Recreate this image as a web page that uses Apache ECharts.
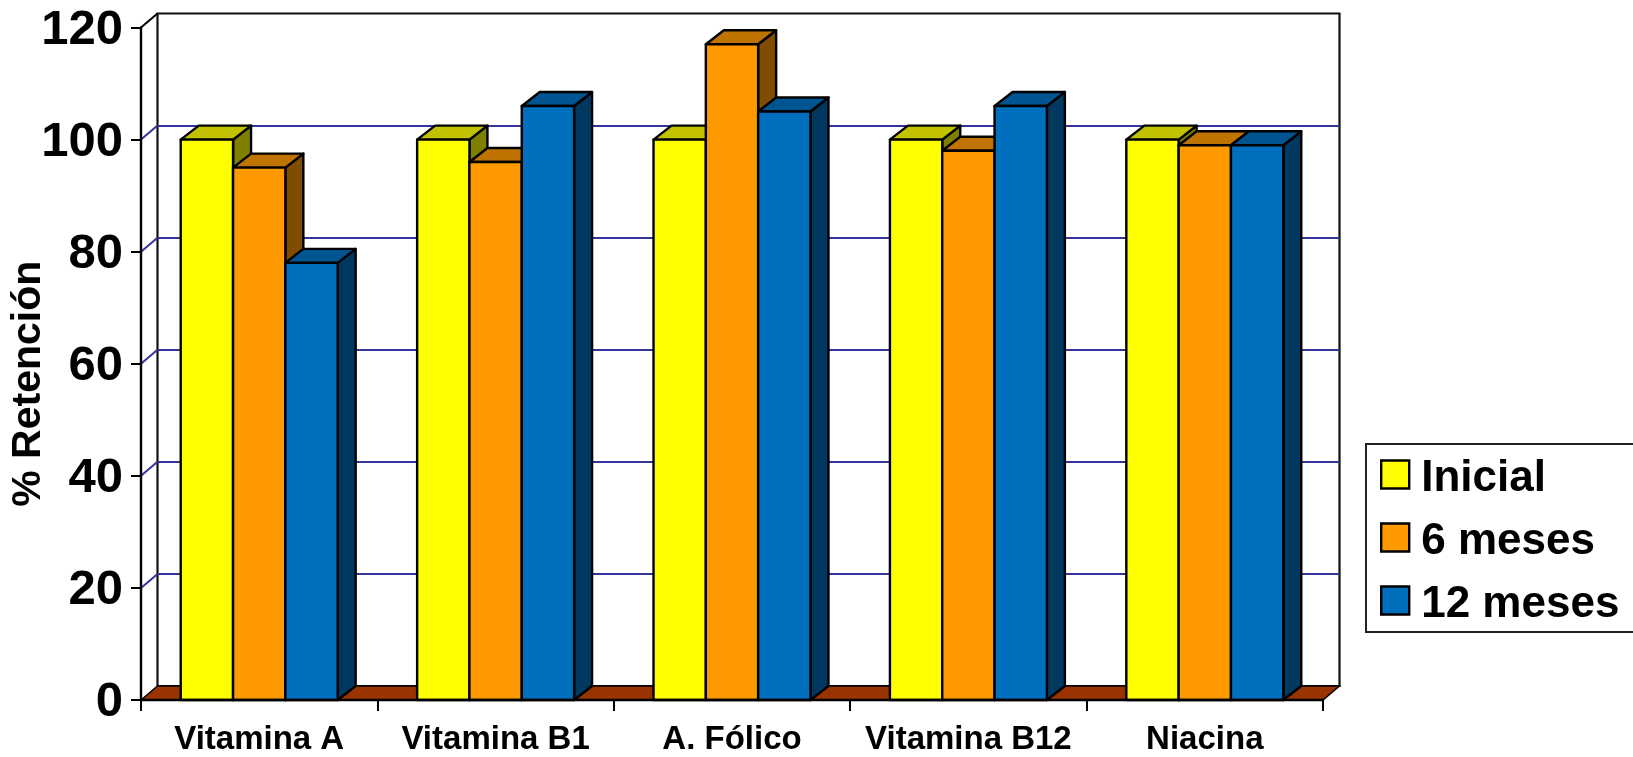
<!DOCTYPE html>
<html>
<head>
<meta charset="utf-8">
<title>% Retención</title>
<style>
html,body{margin:0;padding:0;background:#fff;}
#chart{width:1633px;height:757px;}
</style>
<script src="https://cdn.jsdelivr.net/npm/echarts@6/dist/echarts.min.js"></script>
</head>
<body>
<div id="chart"></div>
<script>
// Vitamin retention over storage time
const categories = ['Vitamina A', 'Vitamina B1', 'A. Fólico', 'Vitamina B12', 'Niacina'];
const inicial = [100, 100, 100, 100, 100];
const seisMeses = [95, 96, 117, 98, 99];
const doceMeses = [78, 106, 105, 106, 99];
const yTicks = [0, 20, 40, 60, 80, 100, 120];

// Pseudo-3D depth of the box and of each column
const DEPTH_X = 16.5;
const DEPTH_Y = -14;
const BAR_DEPTH_X = 18;
const BAR_SHARE = 0.2213;
const FONT = '"Liberation Sans", Arial, sans-serif';

const palettes = [
  { front: '#FFFF00', top: '#C2C200', side: '#808000' },
  { front: '#FF9900', top: '#BF7300', side: '#804D00' },
  { front: '#0070BE', top: '#00548F', side: '#00385F' }
];

const grid = { left: 141, top: 27.5, width: 1182, height: 672.5 };

const frame = { stroke: '#000', lineWidth: 2.4, lineJoin: 'round' };

function columnRenderer(index) {
  const p = palettes[index];
  return function (params, api) {
    const cat = api.value(0);
    const [cx, yTop] = api.coord([cat, api.value(1)]);
    const [, yBase] = api.coord([cat, 0]);
    const w = api.size([1, 0])[0] * BAR_SHARE;
    const x0 = cx + (index - 1.5) * w;
    const x1 = x0 + w;
    const dx = BAR_DEPTH_X, dy = DEPTH_Y;
    return {
      type: 'group',
      children: [
        { type: 'polygon', shape: { points: [[x1, yTop], [x1 + dx, yTop + dy], [x1 + dx, yBase + dy], [x1, yBase]] }, style: { fill: p.side, ...frame } },
        { type: 'polygon', shape: { points: [[x0, yTop], [x0 + dx, yTop + dy], [x1 + dx, yTop + dy], [x1, yTop]] }, style: { fill: p.top, ...frame } },
        { type: 'rect', shape: { x: x0, y: yTop, width: w, height: yBase - yTop }, style: { fill: p.front, ...frame } }
      ]
    };
  };
}

function columnSeries(name, values, index) {
  return {
    name,
    type: 'custom',
    xAxisIndex: 0,
    yAxisIndex: 0,
    z: 3 + index,
    clip: false,
    itemStyle: { color: palettes[index].front },
    renderItem: columnRenderer(index),
    encode: { x: 0, y: 1 },
    data: values.map((v, i) => [i, v])
  };
}

const tickText = { color: '#000', fontFamily: FONT, fontWeight: 'bold', fontSize: 49, padding: [5, 0, 0, 0] };
const legendText = { color: '#000', fontFamily: FONT, fontWeight: 'bold', fontSize: 44, padding: [9, 0, 0, 7] };

const option = {
  animation: false,
  backgroundColor: '#fff',
  textStyle: { fontFamily: FONT },
  grid: [
    { ...grid, containLabel: false, outerBoundsMode: 'none' },
    {
      left: grid.left + DEPTH_X, top: grid.top + DEPTH_Y,
      width: grid.width, height: grid.height, outerBoundsMode: 'none',
      show: true, backgroundColor: '#fff', borderColor: '#111', borderWidth: 2.2, z: 0
    }
  ],
  xAxis: [
    {
      type: 'category', gridIndex: 0, data: categories, z: 6,
      axisLine: { lineStyle: { color: '#000', width: 2.4 } },
      axisTick: { show: true, length: 11, lineStyle: { color: '#000', width: 2 } },
      axisLabel: { color: '#000', fontFamily: FONT, fontWeight: 'bold', fontSize: 33, margin: 23, interval: 0 }
    },
    { type: 'category', gridIndex: 1, data: categories, show: false }
  ],
  yAxis: [
    {
      type: 'value', gridIndex: 0, min: 0, max: 120, interval: 20, z: 6,
      name: '% Retención', nameLocation: 'middle', nameGap: 92, nameRotate: 90, nameMoveOverlap: false,
      nameTextStyle: { color: '#000', fontFamily: FONT, fontWeight: 'bold', fontSize: 41, padding: [0, 40, 0, 0] },
      axisLine: { show: true, lineStyle: { color: '#000', width: 2.4 } },
      axisTick: { show: true, length: 10, lineStyle: { color: '#000', width: 2 } },
      axisLabel: { margin: 18, formatter: '{v|{value}}', rich: { v: tickText } },
      splitLine: { show: false }
    },
    {
      type: 'value', gridIndex: 1, min: 0, max: 120, interval: 20,
      axisLine: { show: false }, axisTick: { show: false }, axisLabel: { show: false },
      splitLine: { show: true, showMinLine: false, showMaxLine: false, lineStyle: { color: '#333399', width: 2 } }
    }
  ],
  legend: {
    left: 1366, top: 444,
    orient: 'vertical',
    data: ['Inicial', '6 meses', '12 meses'],
    icon: 'rect',
    itemWidth: 28, itemHeight: 28, itemGap: 19,
    padding: [13, 60, 5, 14],
    backgroundColor: '#fff',
    borderColor: '#222', borderWidth: 2, borderRadius: 0,
    itemStyle: { borderColor: '#000', borderWidth: 2.4 },
    formatter: name => `{t|${name}}`,
    textStyle: { color: '#000', fontFamily: FONT, fontWeight: 'bold', fontSize: 44, rich: { t: legendText } }
  },
  series: [
    {
      // Floor of the box
      type: 'custom', xAxisIndex: 0, yAxisIndex: 0, z: 1, silent: true, clip: false,
      renderItem(params, api) {
        const c = params.coordSys;
        const b = c.y + c.height, r = c.x + c.width;
        return {
          type: 'polygon',
          shape: { points: [[c.x, b], [c.x + DEPTH_X, b + DEPTH_Y], [r + DEPTH_X, b + DEPTH_Y], [r, b]] },
          style: { fill: '#993300', stroke: '#000', lineWidth: 1.5 }
        };
      },
      data: [[0, 0]]
    },
    {
      // Receding lines on the left wall, one for each y tick
      type: 'custom', xAxisIndex: 0, yAxisIndex: 0, z: 2, silent: true, clip: false,
      encode: { y: 1 },
      renderItem(params, api) {
        const v = api.value(1);
        const c = params.coordSys;
        const y = api.coord([0, v])[1];
        return {
          type: 'line',
          shape: { x1: c.x, y1: y, x2: c.x + DEPTH_X, y2: y + DEPTH_Y },
          style: { stroke: v === 120 ? '#000' : '#333399', lineWidth: 2 }
        };
      },
      data: yTicks.filter(v => v > 0).map(v => [0, v])
    },
    columnSeries('Inicial', inicial, 0),
    columnSeries('6 meses', seisMeses, 1),
    columnSeries('12 meses', doceMeses, 2)
  ]
};

echarts.init(document.getElementById('chart'), null, { renderer: 'canvas' }).setOption(option);
</script>
</body>
</html>
